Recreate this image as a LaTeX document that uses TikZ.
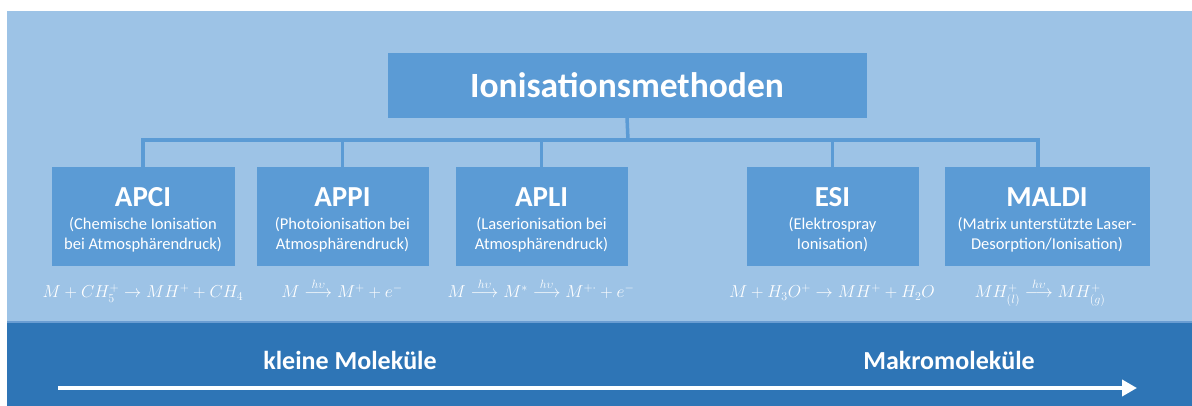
\documentclass[tikz,border=0pt]{standalone}
\usepackage{amsmath}
\usepackage{fontspec}
\setmainfont{Carlito}
\usetikzlibrary{arrows.meta}
\definecolor{bglight}{HTML}{9DC3E6}
\definecolor{bgdark}{HTML}{2E75B6}
\definecolor{boxblue}{HTML}{5B9BD5}
\definecolor{bandedge}{HTML}{6A9DD2}
\tikzset{
  box/.style={fill=boxblue, draw=boxblue, inner sep=0pt},
  conn/.style={draw=boxblue, line width=3.5pt},
  titletext/.style={font=\fontsize{35.5}{40}\selectfont\bfseries, text=white},
  head/.style={font=\fontsize{29}{34}\selectfont\bfseries, text=white, inner sep=0pt},
  sub/.style={font=\fontsize{16.5}{20}\selectfont, text=white, inner sep=0pt},
  formula/.style={font=\fontsize{16.5}{20}\selectfont, text=white, inner sep=0pt},
  bandtext/.style={font=\fontsize{26}{30}\selectfont\bfseries, text=white, inner sep=0pt},
  bigarrow/.style={draw=white, line width=4.5pt, -{Triangle[length=15pt, width=16pt]}},
}
\newcommand\methodbox[6]{%
  \node[box, minimum width=#3, minimum height=98pt] (#1) at (#2,-216) {};
  \node[head, anchor=base] (#1h) at ([yshift=-40pt]#1.north) {#4};
  \node[sub, anchor=base] (#1a) at ([yshift=-63pt]#1.north) {#5};
  \node[sub, anchor=base] (#1b) at ([yshift=-83pt]#1.north) {#6};
}
\begin{document}
\begin{tikzpicture}[x=1pt,y=1pt]
\useasboundingbox (0,0) rectangle (1192,-406);
\fill[bglight] (7,-11) rectangle (1192,-322);
\fill[bgdark] (7,-322) rectangle (1192,-406);
\draw[line width=1.2pt, bandedge] (7,-322) -- (1192,-322);

\node[box, minimum width=478pt, minimum height=64pt, titletext] (title) at (627,-85) {Ionisationsmethoden};

\methodbox{apci}{143}{182pt}{APCI}{(Chemische Ionisation}{bei Atmosphärendruck)}
\methodbox{appi}{342.5}{171pt}{APPI}{(Photoionisation bei}{Atmosphärendruck)}
\methodbox{apli}{541.5}{171pt}{APLI}{(Laserionisation bei}{Atmosphärendruck)}
\methodbox{esi}{832.5}{171pt}{ESI}{(Elektrospray}{Ionisation)}
\methodbox{maldi}{1047}{204pt}{MALDI}{(Matrix unterstützte Laser-}{Desorption/Ionisation)}

\coordinate (bus) at (628,-140);
\draw[conn] (title.south) -- (bus);
\draw[conn] (apci.north) |- (bus);
\draw[conn] (appi.north) |- (bus);
\draw[conn] (apli.north) |- (bus);
\draw[conn] (esi.north) |- (bus);
\draw[conn] ([xshift=-9pt]maldi.north) |- (bus);

\node[formula, anchor=base] (f1) at (143,-298) {$M + CH_5^+ \rightarrow MH^+ + CH_4$};
\node[formula, anchor=base] (f2) at (342,-298) {$M \overset{h\upsilon}{\longrightarrow} M^+ + e^-$};
\node[formula, anchor=base] (f3) at (541,-298) {$M \overset{h\upsilon}{\longrightarrow} M^{*} \overset{h\upsilon}{\longrightarrow} M^{+\cdot} + e^-$};
\node[formula, anchor=base] (f4) at (832,-298) {$M + H_3O^+ \rightarrow MH^+ + H_2O$};
\node[formula, anchor=base] (f5) at (1040,-298) {$MH^+_{(l)} \overset{h\upsilon}{\longrightarrow} MH^+_{(g)}$};

\node[bandtext, anchor=base] (small) at (350,-369) {kleine Moleküle};
\node[bandtext, anchor=base] (macro) at (949,-369) {Makromoleküle};

\coordinate (arrs) at (58,-388);
\coordinate (arre) at (1137,-388);
\draw[bigarrow] (arrs) -- (arre);
\end{tikzpicture}
\end{document}
